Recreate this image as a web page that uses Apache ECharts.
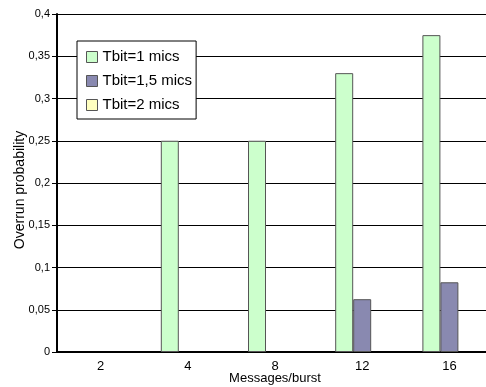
<!DOCTYPE html>
<html>
<head>
<meta charset="utf-8">
<script src="https://cdn.jsdelivr.net/npm/echarts@6/dist/echarts.min.js"></script>
<style>html,body{margin:0;padding:0;background:#fff;}#c{width:486px;height:387px;}</style>
</head>
<body>
<div id="c"></div>
<script>
var categories = ['2', '4', '8', '12', '16'];
var seriesNames = ['Tbit=1 mics', 'Tbit=1,5 mics', 'Tbit=2 mics'];
var tbit1 = [0, 0.25, 0.25, 0.33, 0.375];
var tbit15 = [0, 0, 0, 0.0625, 0.0825];
var tbit2 = [0, 0, 0, 0, 0];
var yTicks = { min: 0, max: 0.4, interval: 0.05 };

var colors = ['#ccffcc', '#8989b0', '#ffffc0'];
var font = 'Liberation Sans, Arial, sans-serif';

function mk(name, data, color) {
  return {
    name: name, type: 'bar', barWidth: 18, barGap: 0,
    data: data.map(function (v) {
      return v === 0 ? { value: v, itemStyle: { borderWidth: 0 } } : v;
    }),
    itemStyle: { color: color, borderColor: '#555', borderWidth: 1 }
  };
}

var chart = echarts.init(document.getElementById('c'));
chart.setOption({
  animation: false,
  textStyle: { fontFamily: font },
  grid: { left: 57, top: 14, width: 436, height: 338, containLabel: false, outerBoundsMode: 'none' },
  legend: {
    orient: 'vertical', left: 77, top: 41,
    backgroundColor: '#fff', borderColor: '#000', borderWidth: 1,
    padding: [8, 4, 6, 9],
    itemWidth: 11, itemHeight: 11, itemGap: 8,
    icon: 'rect',
    itemStyle: { borderColor: '#555', borderWidth: 1 },
    textStyle: { fontSize: 15, color: '#000', fontFamily: font, lineHeight: 16 },
    data: seriesNames
  },
  xAxis: {
    type: 'category', data: categories,
    name: 'Messages/burst', nameLocation: 'middle', nameGap: 20, nameMoveOverlap: false,
    nameTextStyle: { fontSize: 13, color: '#000', fontFamily: font, verticalAlign: 'top' },
    axisLine: { lineStyle: { color: '#000', width: 2 } },
    axisTick: { show: false },
    axisLabel: { fontSize: 13, color: '#000', margin: 8, fontFamily: font },
    splitLine: { show: false }
  },
  yAxis: {
    type: 'value', min: yTicks.min, max: yTicks.max, interval: yTicks.interval,
    name: 'Overrun probability', nameLocation: 'middle', nameGap: 30, nameMoveOverlap: false,
    nameTextStyle: { fontSize: 14, color: '#000', fontFamily: font, padding: [0, 14, 0, 0] },
    axisLine: { show: true, lineStyle: { color: '#000', width: 2 } },
    axisTick: { show: true, length: 5, lineStyle: { color: '#000', width: 1 } },
    axisLabel: {
      fontSize: 11, color: '#000', margin: 7, fontFamily: font,
      formatter: function (v) { return String(Math.round(v * 100) / 100).replace('.', ','); }
    },
    splitLine: { show: true, lineStyle: { color: '#000', width: 1 } }
  },
  series: [
    mk(seriesNames[0], tbit1, colors[0]),
    mk(seriesNames[1], tbit15, colors[1]),
    mk(seriesNames[2], tbit2, colors[2])
  ]
});
</script>
</body>
</html>
